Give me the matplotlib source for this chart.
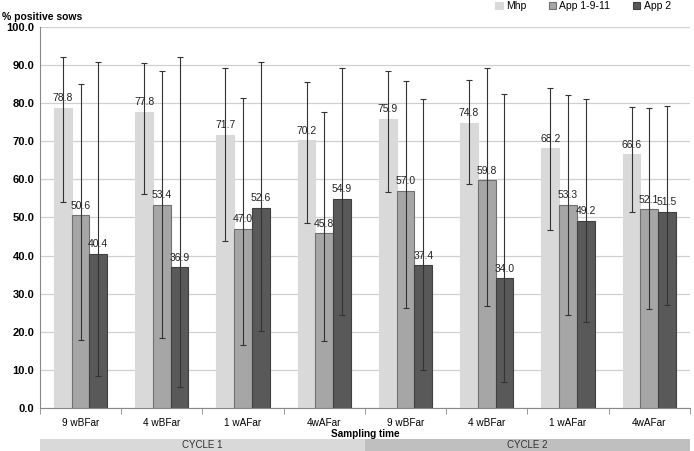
import numpy as np
import matplotlib.pyplot as plt
from matplotlib.patches import Rectangle
import matplotlib.transforms as mtransforms

plt.rcParams['font.family'] = ['Liberation Sans', 'DejaVu Sans']

categories = ['9 wBFar', '4 wBFar', '1 wAFar', '4wAFar', '9 wBFar', '4 wBFar', '1 wAFar', '4wAFar']
cycles = ['CYCLE 1', 'CYCLE 2']
series = ['Mhp', 'App 1-9-11', 'App 2']

mhp = [78.8, 77.8, 71.7, 70.2, 75.9, 74.8, 68.2, 66.6]
app1 = [50.6, 53.4, 47.0, 45.8, 57.0, 59.8, 53.3, 52.1]
app2 = [40.4, 36.9, 52.6, 54.9, 37.4, 34.0, 49.2, 51.5]

# upper / lower ends of the error bars
mhp_hi = [92.0, 90.5, 89.1, 85.6, 88.4, 86.0, 83.9, 79.1]
mhp_lo = [54.1, 56.1, 43.8, 48.6, 56.6, 58.8, 46.6, 51.4]
app1_hi = [85.0, 88.5, 81.3, 77.6, 85.8, 89.1, 82.1, 78.7]
app1_lo = [17.8, 18.3, 16.5, 17.6, 26.2, 26.8, 24.4, 25.9]
app2_hi = [90.8, 92.0, 90.9, 89.2, 81.0, 82.3, 81.1, 79.3]
app2_lo = [8.4, 5.6, 20.3, 24.4, 9.9, 6.9, 22.7, 27.0]

fig = plt.figure(figsize=(6.94, 4.51), dpi=100)
ax = fig.add_axes([0.0576, 0.0953, 0.9364, 0.845])

x = np.arange(len(categories))
w = 0.218
data = [(mhp, mhp_hi, mhp_lo), (app1, app1_hi, app1_lo), (app2, app2_hi, app2_lo)]
colors = ['#d9d9d9', '#a6a6a6', '#595959']
edges = ['#d9d9d9', '#707070', '#404040']
for i, (vals, hi, lo) in enumerate(data):
    xs = x + (i - 1) * w
    v = np.array(vals)
    err = [v - np.array(lo), np.array(hi) - v]
    ax.bar(xs, v, w, color=colors[i], edgecolor=edges[i], linewidth=0.8,
           label=series[i], zorder=2)
    ax.errorbar(xs, v, yerr=err, fmt='none', ecolor='#333333', elinewidth=0.8,
                capsize=2.5, capthick=0.8, zorder=3)
    for xi, vi in zip(xs, v):
        ax.text(xi, vi + 1.2, f'{vi:.1f}', ha='center', va='bottom', fontsize=7.5,
                color='#222222', zorder=4)

ax.set_ylim(0, 100)
ax.set_xlim(-0.5, len(categories) - 0.5)
ax.set_yticks(np.arange(0, 101, 10))
ax.set_yticklabels([f'{t:.1f}' for t in np.arange(0, 101, 10)], fontsize=8, fontweight='bold')
ax.yaxis.grid(True, color='#d0d0d0', linewidth=0.9, zorder=0)
ax.set_axisbelow(True)
ax.tick_params(axis='y', length=0, pad=4)
ax.set_xticks(x)
ax.set_xticklabels(categories, fontsize=7.2)
ax.set_xticks(np.arange(-0.5, len(categories)), minor=True)
ax.tick_params(axis='x', which='major', length=0, pad=7)
ax.tick_params(axis='x', which='minor', length=4, color='#888888')
for s in ['top', 'right']:
    ax.spines[s].set_visible(False)
ax.spines['left'].set_color('#888888')
ax.spines['bottom'].set_color('#888888')

fig.text(0.003, 0.963, '% positive sows', fontsize=7.5, fontweight='bold', va='center')
ax.text(0.5, -0.067, 'Sampling time', transform=ax.transAxes, ha='center', va='center',
        fontsize=7.2, fontweight='bold')

# cycle bands beneath the axis
trans = mtransforms.blended_transform_factory(ax.transData, ax.transAxes)
band_colors = ['#d9d9d9', '#bfbfbf']
for k, name in enumerate(cycles):
    x0 = -0.5 + 4 * k
    r = Rectangle((x0, -0.081), 4, -0.04, transform=trans, facecolor=band_colors[k],
                  edgecolor='none', clip_on=False)
    ax.add_patch(r)
    ax.text(x0 + 2, -0.097, name, transform=trans, ha='center', va='center',
            fontsize=7, color='#333333')

ax.legend(loc='upper right', bbox_to_anchor=(0.985, 1.092), ncol=3, frameon=False,
          fontsize=7.5, handlelength=0.7, handleheight=0.7, columnspacing=2.2,
          handletextpad=0.3)

fig.savefig('out.png', dpi=100)
